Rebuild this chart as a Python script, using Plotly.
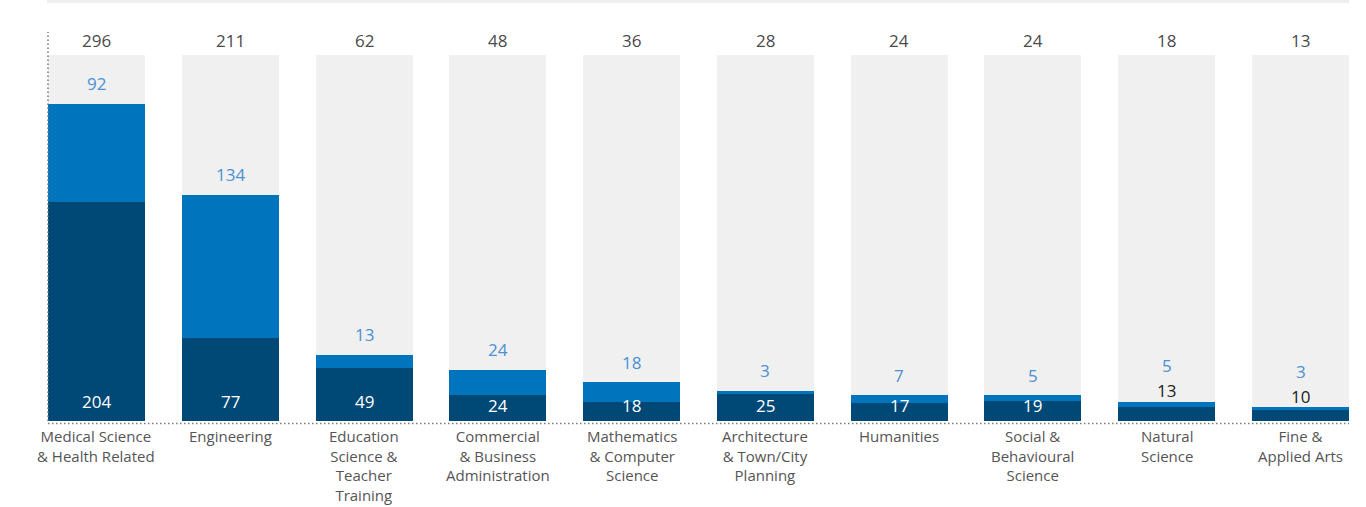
import plotly.graph_objects as go

# Enrolment by field of study: two stacked components per field
categories = [
    "Medical Science<br>& Health Related",
    "Engineering",
    "Education<br>Science &<br>Teacher<br>Training",
    "Commercial<br>& Business<br>Administration",
    "Mathematics<br>& Computer<br>Science",
    "Architecture<br>& Town/City<br>Planning",
    "Humanities",
    "Social &<br>Behavioural<br>Science",
    "Natural<br>Science",
    "Fine &<br>Applied Arts",
]
base_values = [204, 77, 49, 24, 18, 25, 17, 19, 13, 10]
upper_values = [92, 134, 13, 24, 18, 3, 7, 5, 5, 3]
totals = [b + u for b, u in zip(base_values, upper_values)]

# Light background track behind every column, and the visible value range
TRACK = 341.5
Y_MAX = 363

DARK = "#004876"
BLUE = "#0074bc"
TRACK_GREY = "#f0f0f0"
BLUE_TEXT = "#4a90d2"
TOTAL_TEXT = "#4a4a4a"
LABEL_TEXT = "#555555"
FONT = "Open Sans"

x = list(range(len(categories)))
bar_w = 0.725

fig = go.Figure()
fig.add_trace(go.Bar(x=x, y=[TRACK] * len(x), width=bar_w,
                     marker=dict(color=TRACK_GREY, line=dict(width=0)),
                     hoverinfo="skip"))
fig.add_trace(go.Bar(x=x, y=totals, width=bar_w,
                     marker=dict(color=BLUE, line=dict(width=0))))
fig.add_trace(go.Bar(x=x, y=base_values, width=bar_w,
                     marker=dict(color=DARK, line=dict(width=0))))

annotations = []
for i, (b, u, t) in enumerate(zip(base_values, upper_values, totals)):
    # total above the track
    annotations.append(dict(x=i, y=TRACK, text=str(t), showarrow=False,
                            yshift=15, yanchor="middle",
                            font=dict(family=FONT, size=17, color=TOTAL_TEXT)))
    if b >= 15:
        # base value inside the dark segment, near the axis
        annotations.append(dict(x=i, y=0, text=str(b), showarrow=False,
                                yshift=20 if b >= 30 else 16, yanchor="middle",
                                font=dict(family=FONT, size=17, color="#ffffff")))
        blue_shift = 20
    else:
        # short segment: base value sits just above the stack
        annotations.append(dict(x=i, y=t, text=str(b), showarrow=False,
                                yshift=11, yanchor="middle",
                                font=dict(family=FONT, size=17, color="#222222")))
        blue_shift = 36
    annotations.append(dict(x=i, y=t, text=str(u), showarrow=False,
                            yshift=blue_shift, yanchor="middle",
                            font=dict(family=FONT, size=17, color=BLUE_TEXT)))

# Category names under the dotted baseline
for i, name in enumerate(categories):
    annotations.append(dict(x=i, xref="x", y=0, yref="paper", text=name,
                            showarrow=False, yanchor="top", valign="top",
                            yshift=-4, borderpad=0,
                            font=dict(family=FONT, size=15, color=LABEL_TEXT)))

M_TOP, M_BOTTOM = 32, 86
plot_h = 507 - M_TOP - M_BOTTOM


def px_to_paper(py):
    """Convert a pixel row of the page into a paper y coordinate."""
    return (507 - M_BOTTOM - py) / plot_h


shapes = [
    # dotted left axis
    dict(type="line", xref="paper", yref="paper", x0=0, x1=0, y0=0, y1=1,
         line=dict(color="#7a7a7a", width=1.5, dash="1.5px,2.5px")),
    # dotted baseline
    dict(type="line", xref="paper", yref="paper", x0=0, x1=1,
         y0=px_to_paper(423.5), y1=px_to_paper(423.5),
         line=dict(color="#7a7a7a", width=1.5, dash="1.5px,2.5px")),
    # thin grey band along the top edge
    dict(type="rect", xref="paper", yref="paper", x0=-1 / 1301, x1=1,
         y0=px_to_paper(3), y1=px_to_paper(0),
         fillcolor="#efefef", line=dict(width=0), layer="below"),
]

fig.update_layout(
    width=1366, height=507,
    margin=dict(l=48, r=17, t=M_TOP, b=M_BOTTOM, pad=0, autoexpand=False),
    barmode="overlay",
    bargap=0,
    showlegend=False,
    plot_bgcolor="#ffffff",
    paper_bgcolor="#ffffff",
    font=dict(family=FONT, size=16, color=LABEL_TEXT),
    annotations=annotations,
    shapes=shapes,
    xaxis=dict(tickmode="array", tickvals=x, showticklabels=False,
               range=[-bar_w / 2, len(x) - 1 + bar_w / 2],
               showgrid=False, zeroline=False, showline=False, ticks="",
               automargin=False, fixedrange=True),
    yaxis=dict(range=[0, Y_MAX], visible=False, showgrid=False,
               zeroline=False, fixedrange=True, automargin=False),
)

fig.write_html("out.html", config={"displayModeBar": False})
